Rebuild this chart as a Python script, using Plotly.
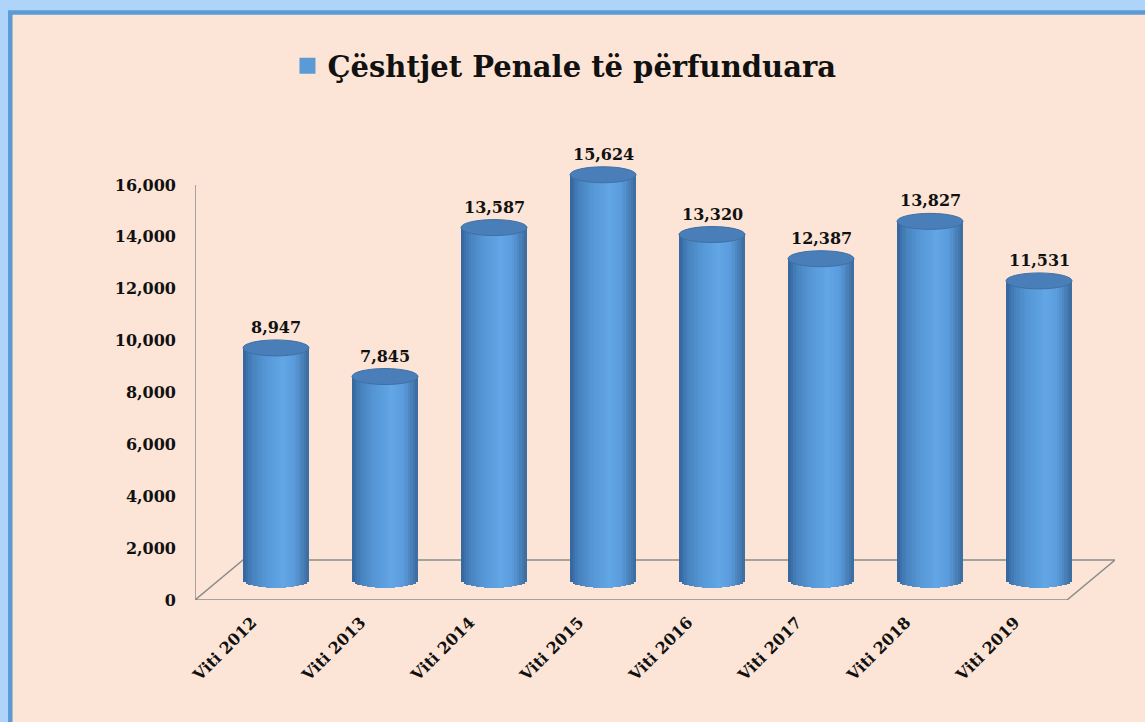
import numpy as np
import plotly.graph_objects as go

# ---------------- data ----------------
categories = ["Viti 2012", "Viti 2013", "Viti 2014", "Viti 2015",
              "Viti 2016", "Viti 2017", "Viti 2018", "Viti 2019"]
values = [8947, 7845, 13587, 15624, 13320, 12387, 13827, 11531]
series_name = "Çështjet Penale të përfunduara"
y_ticks = [0, 2000, 4000, 6000, 8000, 10000, 12000, 14000, 16000]

# ---------------- geometry / style ----------------
W, H = 1145, 722
ax_left, ax_right = 195, 1115       # px extent of the x domain
y0_px, y1_px = 600, 185             # px of value 0 / 16000 on the front axis
slot = 109                          # px between categories
front_first = 252                   # px of first category at front edge
depth_dx, depth_dy = 48, 40         # px of the floor depth
bar_w_px = 66
ell_h_px = 8
ymax = 16000                        # top of the value axis
ytop = 18000                        # extra head-room so tall bars are not clipped
upp = ymax / (y0_px - y1_px)        # value units per px

n = len(categories)
idx = list(range(n))
xf_range = [(ax_left - front_first) / slot, (ax_right - front_first) / slot]
xb_range = [r - depth_dx / 2 / slot for r in xf_range]
yb_range = [-depth_dy / 2 * upp, ytop - depth_dy / 2 * upp]
ytop_px = y0_px - ytop / upp

FONT = "DejaVu Serif"
GRID = "#8C8C8C"
PEACH = "#FCE5D6"

stops = [(0.0, (52, 100, 155)), (0.12, (70, 128, 188)), (0.35, (86, 152, 215)),
         (0.6, (98, 166, 230)), (0.78, (90, 155, 220)), (0.92, (72, 125, 180)),
         (1.0, (58, 106, 156))]


def grad(t):
    for (t0, c0), (t1, c1) in zip(stops[:-1], stops[1:]):
        if t0 <= t <= t1:
            f = (t - t0) / (t1 - t0)
            c = [round(a + (b - a) * f) for a, b in zip(c0, c1)]
            return "rgb(%d,%d,%d)" % tuple(c)
    return "rgb(%d,%d,%d)" % stops[-1][1]


fig = go.Figure()

# value-axis line + floor (front axes coordinates)
xl = xf_range[0]
xr = (ax_right - depth_dx - front_first) / slot
dxu = depth_dx / slot
dyu = depth_dy * upp
fig.add_trace(go.Scatter(
    x=[xl, xl, xr, xr + dxu, xl + dxu, xl],
    y=[ymax, 0, 0, dyu, dyu, 0],
    mode="lines", line=dict(color=GRID, width=1.5),
    showlegend=False, hoverinfo="skip", xaxis="x", yaxis="y"))

# legend entry
fig.add_trace(go.Scatter(
    x=[None], y=[None], mode="markers", name=series_name,
    marker=dict(symbol="square", size=20, color="#5B9BD5"),
    xaxis="x", yaxis="y"))

# cylinder bodies built from shaded vertical slices
nS = 26
w = bar_w_px / slot
hb = ell_h_px * upp
for j in range(nS):
    u = -1 + (2 * j + 1) / nS
    base_j = -hb * np.sqrt(max(0.0, 1 - u * u))
    fig.add_trace(go.Bar(
        x=idx, y=[v - base_j for v in values], base=[base_j] * n,
        offset=-w / 2 + j * w / nS, width=w / nS * 1.1,
        marker=dict(color=grad((j + 0.5) / nS), line=dict(width=0)),
        showlegend=False, hoverinfo="skip", xaxis="x2", yaxis="y2"))

shapes = [
    dict(type="rect", xref="paper", yref="paper",
         x0=10.3 / W, x1=1.02, y0=-0.02, y1=1 - 12.5 / H,
         fillcolor=PEACH, line=dict(color="#5B9BD5", width=4.5), layer="below"),
]
annotations = []
for i, v in enumerate(values):
    shapes.append(dict(type="circle", xref="x2", yref="y2",
                       x0=i - w / 2, x1=i + w / 2, y0=v - hb, y1=v + hb,
                       fillcolor="#4A7EB8", line=dict(color="#3F70A6", width=1),
                       layer="above"))
    annotations.append(dict(xref="x2", yref="y2", x=i, y=v + hb, yanchor="bottom",
                            text=f"{v:,}", showarrow=False, yshift=1,
                            font=dict(family=FONT, size=16, color="#111111",
                                      weight="bold")))

fig.update_layout(
    width=W, height=H, autosize=False,
    margin=dict(l=0, r=0, t=0, b=0),
    paper_bgcolor="#AED5F9", plot_bgcolor="rgba(0,0,0,0)",
    barmode="overlay", bargap=0,
    shapes=shapes, annotations=annotations,
    showlegend=True,
    legend=dict(orientation="h", x=0.493, xanchor="center", y=1 - 66 / H, yanchor="middle",
                font=dict(family=FONT, size=29, color="#111111", weight="bold"),
                bgcolor="rgba(0,0,0,0)", itemsizing="trace"),
    xaxis=dict(domain=[ax_left / W, ax_right / W], range=xf_range,
               tickvals=idx, ticktext=categories, tickangle=-45,
               showgrid=False, zeroline=False, showline=False, ticks="",
               ticklabelstandoff=9,
               tickfont=dict(family=FONT, size=16, color="#111111", weight="bold"),
               automargin=False, fixedrange=True),
    yaxis=dict(domain=[(H - y0_px) / H, (H - ytop_px) / H], range=[0, ytop],
               tickvals=y_ticks, tickformat=",", showgrid=False, zeroline=False,
               showline=False, ticks="", ticklabelstandoff=18,
               tickfont=dict(family=FONT, size=16, color="#111111", weight="bold"),
               automargin=False, fixedrange=True),
    xaxis2=dict(overlaying="x", range=xb_range, visible=False, fixedrange=True),
    yaxis2=dict(overlaying="y", range=yb_range, visible=False, fixedrange=True),
)

fig.write_html("out.html", config={"displayModeBar": False},
               post_script="document.body.style.margin='0px';")
